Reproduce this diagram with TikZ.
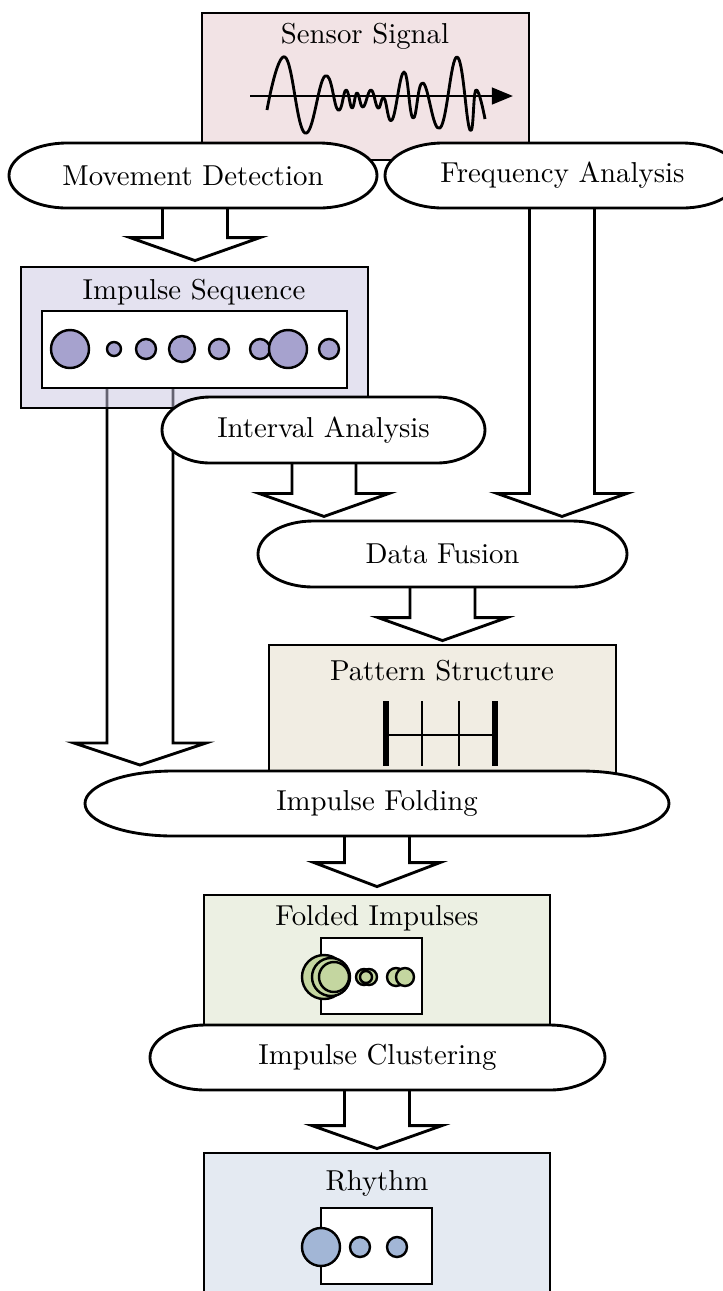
\documentclass[tikz,border=0pt]{standalone}
\usetikzlibrary{calc,fit,arrows.meta}
\pgfdeclarelayer{back}
\pgfsetlayers{back,main}

\definecolor{sigfill}{RGB}{242,227,229}
\definecolor{seqbase}{RGB}{201,197,225}
\definecolor{seqdot}{RGB}{166,162,206}
\definecolor{patfill}{RGB}{241,237,227}
\definecolor{foldfill}{RGB}{236,240,227}
\definecolor{folddot}{RGB}{196,214,160}
\definecolor{rhyfill}{RGB}{228,234,242}
\definecolor{rhydot}{RGB}{162,182,214}

\tikzset{
  x=0.3506pt, y=0.3506pt,
  panel/.style={draw=black, line width=1pt, inner sep=0pt},
  inset/.style={draw=black, fill=white, line width=0.85pt, inner sep=0pt},
  heading/.style={inner sep=0pt, font=\fontsize{10.1}{12}\selectfont},
  procline/.style={draw=black, fill=white, line width=1pt},
  proctext/.style={inner sep=0pt, anchor=center, font=\fontsize{10.1}{12}\selectfont},
  bigarrow/.style={draw=black, fill=white, line width=1pt, line join=miter},
  dot/.style={draw=black, line width=0.85pt},
}

% process step: flat top and bottom with half-elliptic ends
% #1 name, #2 cx, #3 cy, #4 half width, #5 half height, #6 end width, #7 text
\newcommand\procstep[7]{%
  \filldraw[procline] (#2-#4+#6,#3+#5) -- (#2+#4-#6,#3+#5)
    arc[start angle=90, end angle=-90, x radius=#6, y radius=#5]
    -- (#2-#4+#6,#3-#5)
    arc[start angle=270, end angle=90, x radius=#6, y radius=#5] -- cycle;
  \node[proctext, minimum width={2*#4*0.3506pt}, minimum height={2*#5*0.3506pt}]
    (#1) at (#2,#3) {#7};
}

% hollow block arrow from a source edge down to a tip
% #1 source anchor, #2 tip, #3 half shaft width, #4 half head width, #5 head length
\newcommand\blockarrow[5]{%
  \filldraw[bigarrow] ($(#2 |- #1)+(-#3,0)$) -- ($(#2)+(-#3,#5)$) -- ($(#2)+(-#4,#5)$)
    -- (#2) -- ($(#2)+(#4,#5)$) -- ($(#2)+(#3,#5)$) -- ($(#2 |- #1)+(#3,0)$);
}

\begin{document}
\begin{tikzpicture}
\useasboundingbox (0,0) rectangle (723,-1291);

% ---- sensor signal ----
\node[panel, fill=sigfill, fit={(202,-13) (529,-160)}] (sig) {};
\node[heading] (sigtitle) at (365,-36) {Sensor Signal};
\draw[line width=1pt, -{Triangle[length=7.4pt,width=5.8pt]}] (250,-96) -- (513,-96);
\draw[line width=1pt, line join=round] plot[smooth, tension=0.75] coordinates {
  (267,-110) (285,-57) (305,-133) (325,-76) (338,-110) (346,-90) (352,-108)
  (357,-93) (363,-107) (371,-90) (378,-108) (384,-98) (392,-120) (404,-72)
  (413,-118) (423,-83) (440,-128) (457,-57) (470,-130) (476,-90) (485,-119)};

% ---- first analysis steps ----
\procstep{md}{193}{-175.5}{184}{32.5}{58}{Movement Detection}
\procstep{fa}{562.5}{-175.5}{177.5}{32.5}{58}{Frequency Analysis}

% ---- impulse sequence ----
\node[panel, fill=seqbase, fill opacity=0.5, fit={(21,-267) (368,-408)}] (seq) {};
\node[heading] (seqtitle) at (194,-292) {Impulse Sequence};
\node[inset, fit={(42,-311) (347,-388)}] (seqin) {};
\foreach \cx/\r in {70/19, 114/7, 146/10, 182/13, 219/10, 260/10, 288/19, 329/10}
  \draw[dot, fill=seqdot] (\cx,-349) circle[radius=\r];

\procstep{ia}{323.5}{-430}{161.5}{33}{48}{Interval Analysis}
\procstep{df}{442.5}{-554}{184.5}{33}{55}{Data Fusion}

% ---- pattern structure ----
\node[panel, fill=patfill, fit={(269,-645) (616,-790)}] (pat) {};
\node[heading] (pattitle) at (442,-671) {Pattern Structure};
\draw[line width=0.7pt] (386,-735) -- (495,-735);
\draw[line width=0.7pt] (422,-701) -- (422,-766) (459,-701) -- (459,-766);
\draw[line width=1.8pt] (386,-701) -- (386,-766) (495,-701) -- (495,-766);

\procstep{if}{377}{-803.5}{292}{32.5}{88}{Impulse Folding}

% ---- folded impulses ----
\node[panel, fill=foldfill, fit={(204,-895) (550,-1050)}] (fold) {};
\node[heading] (foldtitle) at (377,-918) {Folded Impulses};
\node[inset, fit={(321,-938) (422,-1014)}] (foldin) {};
\foreach \cx/\r in {324/22, 331/19, 334/15, 364/8, 369/8, 366/6, 396/9, 405/9}
  \draw[dot, fill=folddot] (\cx,-977) circle[radius=\r];

\procstep{ic}{377.5}{-1057.5}{227.5}{32.5}{55}{Impulse Clustering}

% ---- rhythm ----
\node[panel, fill=rhyfill, fit={(204,-1153) (550,-1310)}] (rhy) {};
\node[heading] (rhytitle) at (377,-1183) {Rhythm};
\node[inset, fit={(321,-1208) (432,-1284)}] (rhyin) {};
\foreach \cx/\r in {321/19, 360/10, 397/10}
  \draw[dot, fill=rhydot] (\cx,-1247) circle[radius=\r];

% ---- tips of the block arrows ----
\coordinate (t1) at ($(seq.north)+(0.5,5)$);
\coordinate (t2) at (140,-765);
\coordinate (t3) at ($(df.north)+(-118.5,4)$);
\coordinate (t4) at ($(df.north)+(119.5,4)$);
\coordinate (t5) at ($(pat.north)+(0,3)$);
\coordinate (t6) at ($(fold.north)+(0,7)$);
\coordinate (t7) at ($(rhy.north)+(0,3)$);

\begin{pgfonlayer}{back}
  \blockarrow{md.south}{t1}{32.5}{65}{23}
  \blockarrow{seqin.south}{t2}{33}{66}{22}
  \blockarrow{ia.south}{t3}{32}{65}{23}
  \blockarrow{fa.south}{t4}{32.5}{65}{23}
  \blockarrow{df.south}{t5}{32.5}{64.5}{23}
  \blockarrow{if.south}{t6}{32.5}{63}{24}
  \blockarrow{ic.south}{t7}{32.5}{65}{23}
\end{pgfonlayer}
\end{tikzpicture}
\end{document}
